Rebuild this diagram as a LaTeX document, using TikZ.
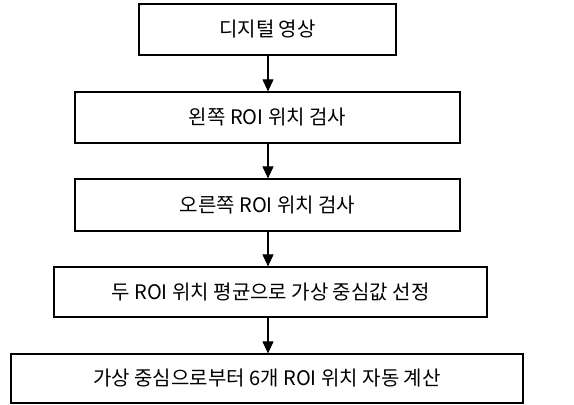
\documentclass[tikz,border=0pt]{standalone}
\usepackage{fontspec}
\newfontfamily\kr{Noto Sans CJK KR}
\usetikzlibrary{arrows.meta}
\begin{document}
\begin{tikzpicture}[x=1pt,y=-1pt,
  stepbox/.style={draw,line width=1.2pt,inner sep=0pt,font=\kr\fontsize{20}{24}\selectfont},
  flow/.style={line width=1.1pt,-{Triangle[length=12pt,width=11pt]}}]
\useasboundingbox (0,0) rectangle (574,405);
\fill[white] (0,0) rectangle (574,405);
\node[stepbox,minimum width=257pt,minimum height=51pt] (a) at (267.5,29.5) {디지털 영상};
\node[stepbox,minimum width=385pt,minimum height=51pt] (b) at (267.5,117.5) {왼쪽 ROI 위치 검사};
\node[stepbox,minimum width=385pt,minimum height=52pt] (c) at (267.5,205) {오른쪽 ROI 위치 검사};
\node[stepbox,minimum width=433pt,minimum height=50pt] (d) at (270.5,292) {두 ROI 위치 평균으로 가상 중심값 선정};
\node[stepbox,minimum width=512pt,minimum height=49pt] (e) at (267,378.5) {가상 중심으로부터 6개 ROI 위치 자동 계산};
\draw[flow] (a.south -| 268,0) -- (b.north -| 268,0);
\draw[flow] (b.south -| 268,0) -- (c.north -| 268,0);
\draw[flow] (c.south -| 268,0) -- (d.north -| 268,0);
\draw[flow] (d.south -| 268,0) -- (e.north -| 268,0);
\end{tikzpicture}
\end{document}
